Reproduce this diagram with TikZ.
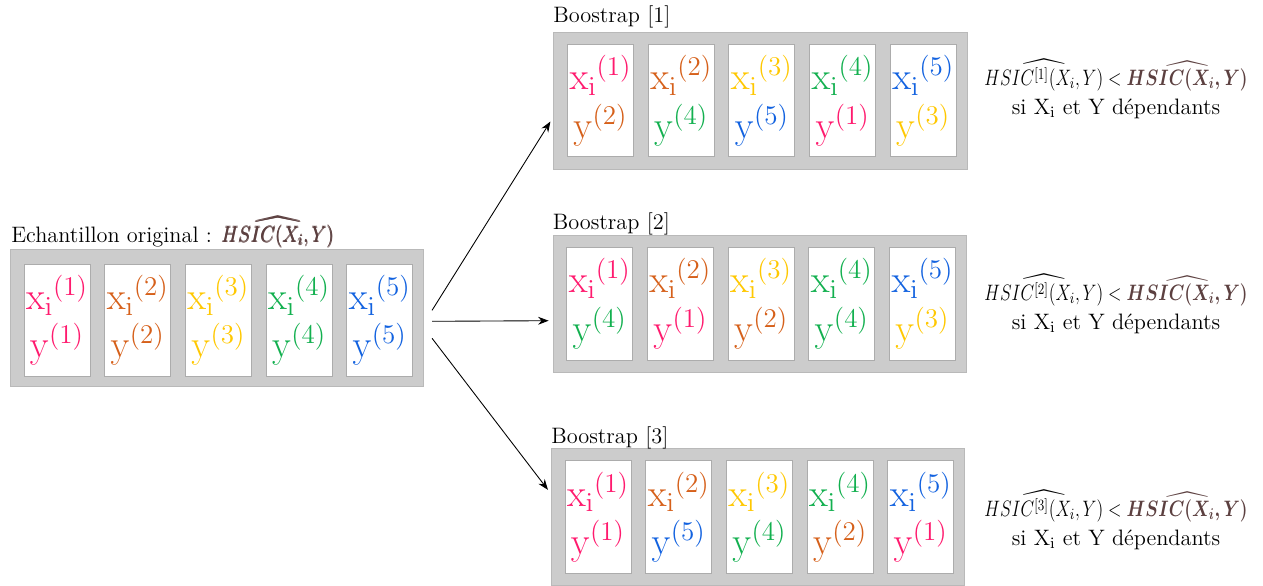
\RequirePackage{fix-cm}
\documentclass[tikz,border=0pt,12pt]{standalone}
\usepackage{amsmath}
\usepackage{amssymb}
\usepackage{graphicx}
\usetikzlibrary{positioning}
\usetikzlibrary{arrows.meta}

\definecolor{rose}{HTML}{FF1A6E}
\definecolor{rouille}{HTML}{D6601A}
\definecolor{jaune}{HTML}{FFC800}
\definecolor{vert}{HTML}{12B04F}
\definecolor{bleu}{HTML}{1262E0}
\definecolor{brun}{HTML}{5C4040}

\tikzset{
  panneau/.style={draw=gray!55, fill=gray!40, minimum width=8.27cm, minimum height=2.74cm, inner sep=0pt},
  carte/.style={draw=gray!65, fill=white, minimum width=1.32cm, minimum height=2.25cm, inner sep=1pt, align=center, font=\fontsize{22}{27.5}\selectfont},
  titre/.style={anchor=base west, inner sep=0pt, font=\fontsize{12.7}{15.5}\selectfont},
  resultat/.style={align=center, inner sep=0pt, font=\fontsize{12.7}{15.5}\selectfont},
  fleche/.style={line width=0.5pt, -{Stealth[length=6pt,width=4.5pt]}},
}

\begin{document}
\begin{tikzpicture}[x=0.02cm, y=-0.02cm]
          \useasboundingbox (0,0) rectangle (1263,585);
          \node[panneau] (orig) at (217, 318.3) {};
          \node[panneau] (boot1) at (760.5, 100.5) {};
          \node[panneau] (boot2) at (759.7, 303.7) {};
          \node[panneau] (boot3) at (758, 516.8) {};
          %
          \node[titre] (origlabel) at (11, 242) {Echantillon original :\hspace{0.2cm}\scalebox{0.85}[1]{\color{brun}$\pmb{\widehat{HSIC(X_i,Y)}}$}};
          \node[titre] (boot1label) at (553, 22) {Boostrap [1]};
          \node[titre] (boot2label) at (552.5, 229) {Boostrap [2]};
          \node[titre] (boot3label) at (551, 443) {Boostrap [3]};
          %
          \node[carte] (o1) at ([shift={(47,2)}]orig.west) {{\color{rose}$\mathrm{x_i}^{(1)}$} \\ {\color{rose}$\mathrm{y}^{(1)}$}};
          \node[carte, right=0.28cm of o1] (o2) {{\color{rouille}$\mathrm{x_i}^{(2)}$} \\ {\color{rouille}$\mathrm{y}^{(2)}$}};
          \node[carte, right=0.28cm of o2] (o3) {{\color{jaune}$\mathrm{x_i}^{(3)}$} \\ {\color{jaune}$\mathrm{y}^{(3)}$}};
          \node[carte, right=0.28cm of o3] (o4) {{\color{vert}$\mathrm{x_i}^{(4)}$} \\ {\color{vert}$\mathrm{y}^{(4)}$}};
          \node[carte, right=0.28cm of o4] (o5) {{\color{bleu}$\mathrm{x_i}^{(5)}$} \\ {\color{bleu}$\mathrm{y}^{(5)}$}};
          %
          \node[carte] (a1) at ([shift={(47,0)}]boot1.west) {{\color{rose}$\mathrm{x_i}^{(1)}$} \\ {\color{rouille}$\mathrm{y}^{(2)}$}};
          \node[carte, right=0.28cm of a1] (a2) {{\color{rouille}$\mathrm{x_i}^{(2)}$} \\ {\color{vert}$\mathrm{y}^{(4)}$}};
          \node[carte, right=0.28cm of a2] (a3) {{\color{jaune}$\mathrm{x_i}^{(3)}$} \\ {\color{bleu}$\mathrm{y}^{(5)}$}};
          \node[carte, right=0.28cm of a3] (a4) {{\color{vert}$\mathrm{x_i}^{(4)}$} \\ {\color{rose}$\mathrm{y}^{(1)}$}};
          \node[carte, right=0.28cm of a4] (a5) {{\color{bleu}$\mathrm{x_i}^{(5)}$} \\ {\color{jaune}$\mathrm{y}^{(3)}$}};
          %
          \node[carte] (b1) at ([shift={(47,0)}]boot2.west) {{\color{rose}$\mathrm{x_i}^{(1)}$} \\ {\color{vert}$\mathrm{y}^{(4)}$}};
          \node[carte, right=0.28cm of b1] (b2) {{\color{rouille}$\mathrm{x_i}^{(2)}$} \\ {\color{rose}$\mathrm{y}^{(1)}$}};
          \node[carte, right=0.28cm of b2] (b3) {{\color{jaune}$\mathrm{x_i}^{(3)}$} \\ {\color{rouille}$\mathrm{y}^{(2)}$}};
          \node[carte, right=0.28cm of b3] (b4) {{\color{vert}$\mathrm{x_i}^{(4)}$} \\ {\color{vert}$\mathrm{y}^{(4)}$}};
          \node[carte, right=0.28cm of b4] (b5) {{\color{bleu}$\mathrm{x_i}^{(5)}$} \\ {\color{jaune}$\mathrm{y}^{(3)}$}};
          %
          \node[carte] (c1) at ([shift={(47,0)}]boot3.west) {{\color{rose}$\mathrm{x_i}^{(1)}$} \\ {\color{rose}$\mathrm{y}^{(1)}$}};
          \node[carte, right=0.28cm of c1] (c2) {{\color{rouille}$\mathrm{x_i}^{(2)}$} \\ {\color{bleu}$\mathrm{y}^{(5)}$}};
          \node[carte, right=0.28cm of c2] (c3) {{\color{jaune}$\mathrm{x_i}^{(3)}$} \\ {\color{vert}$\mathrm{y}^{(4)}$}};
          \node[carte, right=0.28cm of c3] (c4) {{\color{vert}$\mathrm{x_i}^{(4)}$} \\ {\color{rouille}$\mathrm{y}^{(2)}$}};
          \node[carte, right=0.28cm of c4] (c5) {{\color{bleu}$\mathrm{x_i}^{(5)}$} \\ {\color{rose}$\mathrm{y}^{(1)}$}};
          %
          \node[resultat] (res1) at (1116, 89) {\scalebox{0.79}[1]{$\widehat{HSIC^{[1]}(X_i,Y)} < {\color{brun}\boldsymbol{\widehat{HSIC(X_i,Y)}}}$} \\[1pt] si $\mathrm{X_i}$ et Y dépendants};
          \node[resultat] (res2) at (1116, 304) {\scalebox{0.79}[1]{$\widehat{HSIC^{[2]}(X_i,Y)} < {\color{brun}\boldsymbol{\widehat{HSIC(X_i,Y)}}}$} \\[1pt] si $\mathrm{X_i}$ et Y dépendants};
          \node[resultat] (res3) at (1116, 520) {\scalebox{0.79}[1]{$\widehat{HSIC^{[3]}(X_i,Y)} < {\color{brun}\boldsymbol{\widehat{HSIC(X_i,Y)}}}$} \\[1pt] si $\mathrm{X_i}$ et Y dépendants};
          %
          \draw[fleche] ([shift={(8,-8)}]orig.east) -- ([shift={(-3,21)}]boot1.west);
          \draw[fleche] ([shift={(8,3)}]orig.east) -- ([shift={(-4,17)}]boot2.west);
          \draw[fleche] ([shift={(8,20)}]orig.east) -- ([shift={(-3,-27)}]boot3.west);
        \end{tikzpicture}
\end{document}
